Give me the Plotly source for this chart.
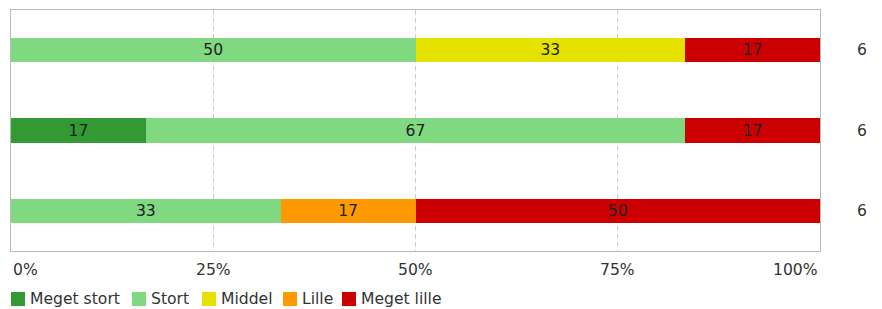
import plotly.graph_objects as go

rows = ["A", "B", "C"]
totals = [6, 6, 6]
series_names = ["Meget stort", "Stort", "Middel", "Lille", "Meget lille"]
series_colors = ["#339933", "#80D880", "#E6E200", "#FF9900", "#CC0000"]
counts = {
    "Meget stort": [0, 1, 0],
    "Stort": [3, 4, 2],
    "Middel": [2, 0, 0],
    "Lille": [0, 0, 1],
    "Meget lille": [1, 1, 3],
}
tick_vals = [0, 25, 50, 75, 100]
tick_text = ["0%", "25%", "50%", "75%", "100%"]

FONT = "DejaVu Sans"
FS = 15.6
TXT = "#333333"

# page body has an 8px margin; plot area should span x 11..820, y 10..251 on page
PAGE_OFF = 8
W, H = 882 - PAGE_OFF, 309 - PAGE_OFF
ML, MT, MR, MB = 11 - PAGE_OFF, 10 - PAGE_OFF, 882 - 820, 309 - 251
PW, PH = W - ML - MR, H - MT - MB

fig = go.Figure()
ypos = list(range(len(rows)))
for name, col in zip(series_names, series_colors):
    pct = [c / t * 100 for c, t in zip(counts[name], totals)]
    txt = [f"{round(p):d}" if p > 0 else "" for p in pct]
    fig.add_trace(go.Bar(
        y=ypos, x=pct, orientation="h", name=name, showlegend=False,
        marker=dict(color=col, line=dict(width=0)),
        text=txt, textposition="inside", insidetextanchor="middle",
        textfont=dict(family=FONT, size=FS, color="#222222"),
        constraintext="none",
    ))

fig.update_layout(
    barmode="stack", bargap=0.7,
    width=W, height=H,
    margin=dict(l=ML, r=MR, t=MT, b=MB),
    plot_bgcolor="white", paper_bgcolor="white",
    font=dict(family=FONT, size=FS, color=TXT),
    showlegend=False,
    uniformtext=dict(mode=False),
)
fig.update_xaxes(range=[0, 100], tickvals=tick_vals, showticklabels=False,
                 showgrid=True, gridcolor="#d0d0d0", griddash="5px,3px", gridwidth=1,
                 showline=True, linecolor="#bbbbbb", linewidth=1, mirror=True,
                 zeroline=False, fixedrange=True)
fig.update_yaxes(range=[len(rows) - 0.5, -0.5], showticklabels=False, showgrid=False,
                 showline=True, linecolor="#bbbbbb", linewidth=1, mirror=True,
                 zeroline=False, fixedrange=True)

# x tick labels: first left-aligned, last right-aligned
anchors = ["left", "center", "center", "center", "right"]
for v, t, a in zip(tick_vals, tick_text, anchors):
    fig.add_annotation(x=v, y=0, xref="x", yref="paper", yshift=-19, text=t,
                       showarrow=False, xanchor=a, yanchor="middle",
                       font=dict(family=FONT, size=FS, color=TXT))
# totals on the right
for i, t in enumerate(totals):
    fig.add_annotation(x=1, xref="paper", y=i, yref="y", xshift=42, text=str(t),
                       showarrow=False, xanchor="center", yanchor="middle",
                       font=dict(family=FONT, size=FS, color=TXT))

# legend drawn below the plot
legend_px = [0, 121, 191, 272, 331]  # left of each swatch, px from plot left
SW = 14
leg_y = -48 / PH
for name, col, lx in zip(series_names, series_colors, legend_px):
    fig.add_shape(type="rect", xref="paper", yref="paper",
                  x0=lx / PW, x1=(lx + SW) / PW,
                  y0=leg_y - (SW / 2) / PH, y1=leg_y + (SW / 2) / PH,
                  fillcolor=col, line=dict(width=0))
    fig.add_annotation(x=(lx + SW + 3) / PW, xref="paper", y=leg_y, yref="paper",
                       text=name, showarrow=False, xanchor="left", yanchor="middle",
                       font=dict(family=FONT, size=FS, color=TXT))

fig.write_html("out.html")
